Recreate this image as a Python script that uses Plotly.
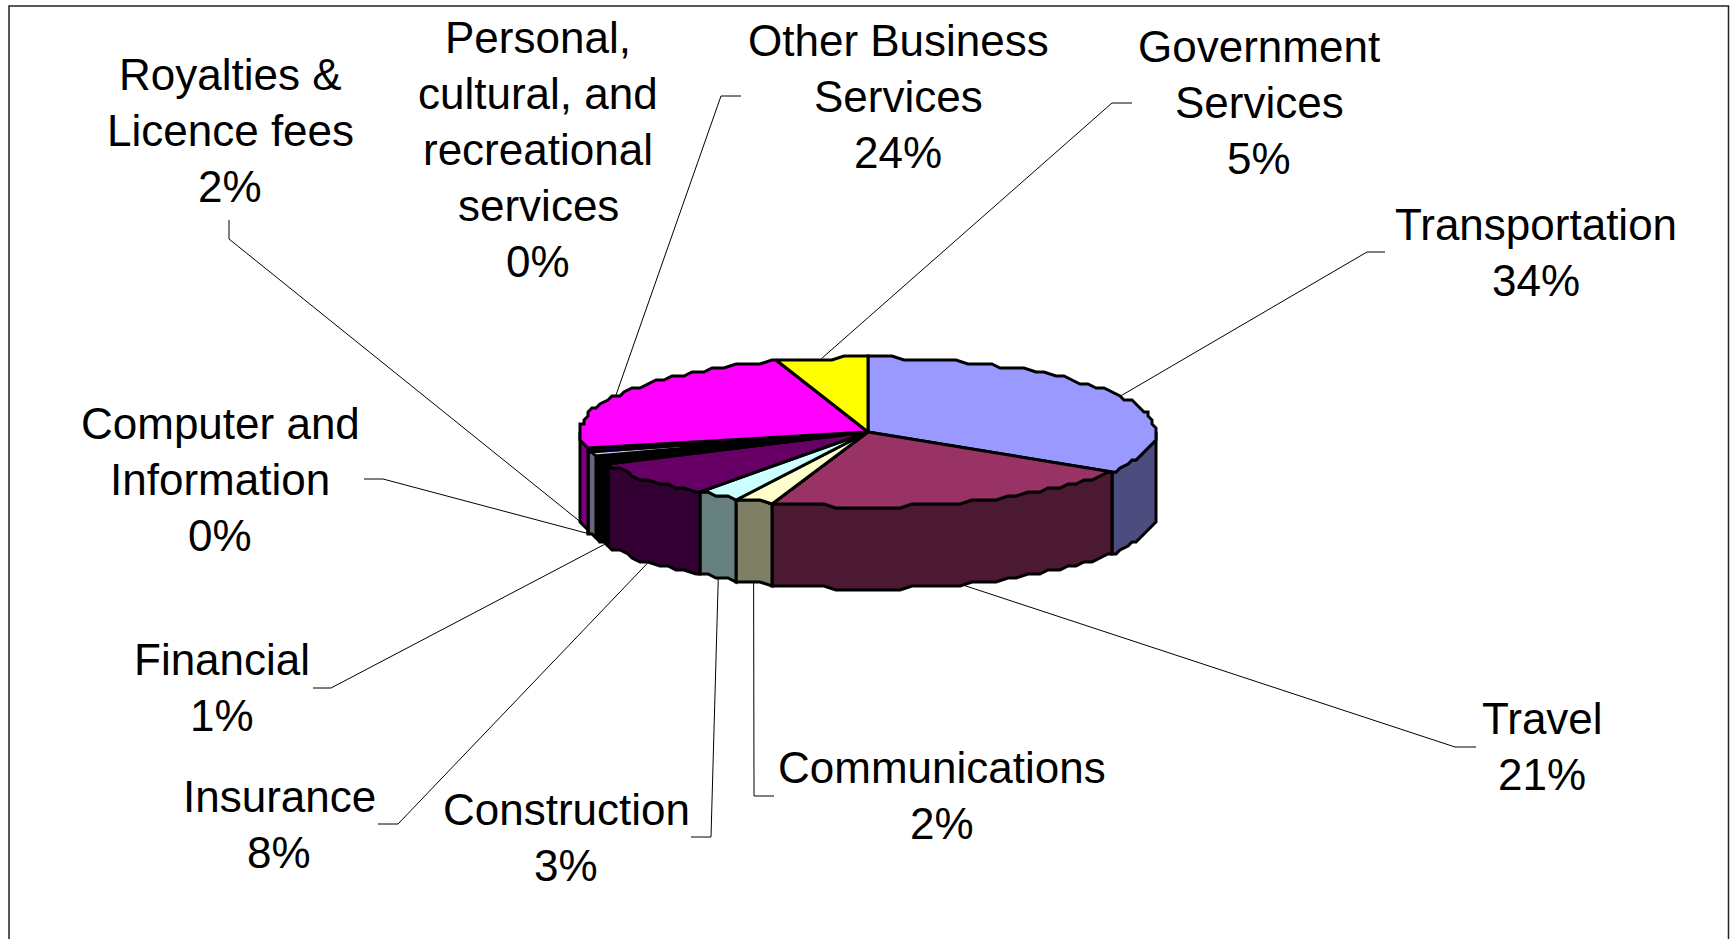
import numpy as np
import plotly.graph_objects as go

# ---- data (clockwise from 12 o'clock) ----
categories = ["Transportation", "Travel", "Communications", "Construction", "Insurance",
              "Financial", "Computer and Information", "Royalties & Licence fees",
              "Personal, cultural, and recreational services",
              "Other Business Services", "Government Services"]
shares = [34.0, 21.5, 2.0, 2.4, 7.8, 1.3, 0.4, 1.7, 0.05, 23.7, 5.15]
shown_pct = [34, 21, 2, 3, 8, 1, 0, 2, 0, 24, 5]

# ---- styling and layout ----
face_colors = ["#9999FF", "#993366", "#FFFFCC", "#CCFFFF", "#660066", "#000000",
               "#000000", "#CCCCFF", "#000080", "#FF00FF", "#FFFF00"]
label_lines = [["Transportation"], ["Travel"], ["Communications"], ["Construction"], ["Insurance"],
               ["Financial"], ["Computer and", "Information"], ["Royalties &", "Licence fees"],
               ["Personal,", "cultural, and", "recreational", "services"],
               ["Other Business", "Services"], ["Government", "Services"]]
label_x = [1536, 1542, 942, 566, 279, 222, 220, 230, 538, 898, 1259]
label_y = [224, 718, 767, 809, 796, 659, 423, 74, 37, 40, 46]
LINE_STEP = 56.2
FONT_SIZE = 44
# leader: elbow 1, elbow 2 (None = no leader); anchor = share position on the rim, wall = on lower edge
elbow_a = [(1367, 252), (1455, 747), (754, 796), (711, 837), (398, 824), (331, 688), (383, 479),
           (229, 239), None, (721, 96), (1112, 103)]
elbow_b = [(1385, 252), (1476, 747), (774, 796), (691, 837), (378, 824), (313, 688), (364, 479),
           (229, 220), None, (741, 96), (1132, 103)]
anchor_override = {2: 56.5, 3: 58.7, 6: 70.6, 7: 73.0}
on_wall = [False, True, True, True, True, True, True, True, False, False, False]

CX, CY, RX, RY, DEPTH = 868, 432, 288, 74.5, 82
GRID = 4.0  # the reference's rim is stepped; its outline is snapped to this pixel grid


def rim(frac_pct, drop=0.0):
    a = np.asarray(frac_pct) / 100 * 2 * np.pi
    return CX + RX * np.sin(a), CY - RY * np.cos(a) + drop


def stepped_rim(frac_pct, drop=0.0):
    x, y = rim(frac_pct)
    return np.round(x / GRID) * GRID, np.round(y / GRID) * GRID + drop


def samples(lo, hi):
    return np.r_[lo, np.arange(np.ceil(lo / 0.7) * 0.7, hi, 0.7), hi]


edges = np.concatenate([[0], np.cumsum(shares)])
edges = edges / edges[-1] * 100


def darker(hex_color):
    r, g, b = (int(hex_color[i:i + 2], 16) // 2 for i in (1, 3, 5))
    return f"#{r:02X}{g:02X}{b:02X}"


fig = go.Figure()


def add_line(xs, ys, width=1.0):
    fig.add_trace(go.Scatter(x=xs, y=ys, mode="lines", hoverinfo="skip", showlegend=False,
                             line=dict(color="#000000", width=width)))


# leader lines
for i, (ea, eb) in enumerate(zip(elbow_a, elbow_b)):
    if ea is None:
        continue
    pos = anchor_override.get(i, (edges[i] + edges[i + 1]) / 2)
    sx, sy = rim(pos, DEPTH if on_wall[i] else 0)
    add_line([float(sx), ea[0], eb[0]], [float(sy), ea[1], eb[1]])

# outer walls of the front half (25% .. 75% of the turn)
for i in range(len(shares)):
    lo, hi = max(edges[i], 25), min(edges[i + 1], 75)
    if hi <= lo:
        continue
    t = samples(lo, hi)
    xt, yt = stepped_rim(t)
    xb, yb = stepped_rim(t[::-1], DEPTH)
    fig.add_trace(go.Scatter(x=np.r_[xt, xb, xt[0]], y=np.r_[yt, yb, yt[0]], mode="lines", fill="toself",
                             fillcolor=darker(face_colors[i]), hoverinfo="skip", showlegend=False,
                             line=dict(color="#000000", width=3)))

# top faces
for i in range(len(shares)):
    t = samples(edges[i], edges[i + 1])
    xt, yt = stepped_rim(t)
    fig.add_trace(go.Scatter(x=np.r_[CX, xt, CX], y=np.r_[CY, yt, CY], mode="lines", fill="toself",
                             fillcolor=face_colors[i], name=categories[i], showlegend=False,
                             text=f"{categories[i]} {shown_pct[i]}%", hoverinfo="text",
                             line=dict(color="#000000", width=3)))

# labels, one annotation per text line
for lines, pct, x, y in zip(label_lines, shown_pct, label_x, label_y):
    for k, txt in enumerate(lines + [f"{pct}%"]):
        fig.add_annotation(x=x, y=y + k * LINE_STEP, text=txt, showarrow=False, xref="x", yref="y",
                           xanchor="center", yanchor="middle",
                           font=dict(family="Liberation Sans, Arial, sans-serif", size=FONT_SIZE, color="#000000"))

# frame (its lower edge runs off the page)
fig.add_shape(type="rect", x0=9, y0=6, x1=1728.5, y1=1000, xref="x", yref="y",
              line=dict(color="#222222", width=1.5), fillcolor="rgba(0,0,0,0)", layer="below")

fig.update_layout(width=1732, height=939, margin=dict(l=0, r=0, t=0, b=0), paper_bgcolor="#FFFFFF",
                  plot_bgcolor="#FFFFFF", showlegend=False,
                  xaxis=dict(range=[0, 1732], visible=False, fixedrange=True),
                  yaxis=dict(range=[939, 0], visible=False, fixedrange=True))

fig.write_html("out.html", config={"displayModeBar": False},
               post_script="document.body.style.margin='0';document.documentElement.style.overflow='hidden';")
